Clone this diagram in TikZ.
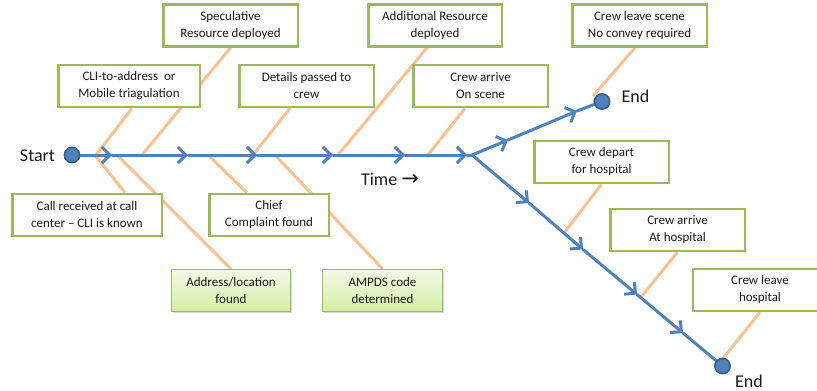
\documentclass[tikz,border=0pt]{standalone}
\usepackage{fontspec}
\setmainfont{Carlito}
\newfontfamily\dejavu{DejaVu Sans}
\usetikzlibrary{arrows.meta,shadows,backgrounds,calc}
\definecolor{flowblue}{HTML}{4F81BD}
\definecolor{flowdark}{HTML}{385D8A}
\definecolor{boneor}{HTML}{FAC090}
\definecolor{boxgreen}{HTML}{9BBB59}
\definecolor{gtop}{HTML}{F2F9E6}
\definecolor{gbot}{HTML}{D5EEA6}
\definecolor{txt}{HTML}{1A1A1A}
\begin{document}
\begin{tikzpicture}[x=1pt,y=-1pt,
  box/.style={draw=boxgreen, line width=2.5pt, fill=white, align=center, text=txt,
    font=\fontsize{13}{17}\selectfont, minimum height=42pt, inner sep=0pt},
  gbox/.style={draw=boxgreen, line width=1.2pt, top color=gtop, bottom color=gbot,
    drop shadow={shadow xshift=1.5pt,shadow yshift=-1.5pt,opacity=0.3},
    align=center, text=txt, font=\fontsize{13}{17}\selectfont, minimum height=42pt, inner sep=0pt},
  flow/.style={draw=flowblue, line width=3pt, line cap=round,
    -{Straight Barb[length=8pt,width=16pt,line width=3pt 0]}},
  flowline/.style={draw=flowblue, line width=3pt, line cap=round},
  bone/.style={draw=boneor, line width=3pt},
  dot/.style={circle, fill=flowblue, draw=flowdark, line width=1.5pt, minimum size=15pt, inner sep=0pt},
  big/.style={font=\fontsize{18}{20}\selectfont, text=txt, inner sep=0pt}]
\useasboundingbox (0,0) rectangle (817,391);
\clip (0,0) rectangle (817,391);

% boxes
\node[box, minimum width=134.5pt] (spec) at (230.5,25.5) {Speculative\\Resource deployed};
\node[box, minimum width=141.5pt] (cli) at (129,86) {CLI-to-address~ or\\Mobile triagulation};
\node[box, minimum width=134.5pt] (details) at (306.5,86) {Details passed to\\crew};
\node[box, minimum width=133.5pt] (addl) at (435,25.5) {Additional Resource\\deployed};
\node[box, minimum width=134.5pt] (scene) at (480.5,86) {Crew arrive\\On scene};
\node[box, minimum width=134.5pt] (leave) at (639.5,25.5) {Crew leave scene\\No convey required};
\node[box, minimum width=134.5pt] (depart) at (601.5,162) {Crew depart\\for hospital};
\node[box, minimum width=134.5pt] (arrhosp) at (677.5,230) {Crew arrive\\At hospital};
\node[box, minimum width=134.5pt] (leavehosp) at (760,290) {Crew leave\\hospital};
\node[box, minimum width=149.5pt] (call) at (87,215) {Call received at call\\center -- CLI is known};
\node[box, minimum width=119.5pt] (chief) at (269,215) {Chief\\Complaint found};
\node[gbox, minimum width=118.5pt] (addr) at (231,290.5) {Address/location\\found};
\node[gbox, minimum width=119.5pt] (ampds) at (382.5,290.5) {AMPDS code\\determined};

% circles and labels
\node[dot] (start) at (72,155) {};
\node[dot] (endA) at (602,101.5) {};
\node[dot] (endB) at (722.5,366) {};
\node[big] (startlbl) at (37.5,155.5) {Start};
\node[big] (endAlbl) at (635.5,96.5) {End};
\node[big] (endBlbl) at (749,381.5) {End};
\node[big] (timelbl) at (390,179) {Time {\dejavu\fontsize{21}{20}\selectfont →}};

% main line coordinates
\coordinate (m1) at (112,155);
\coordinate (m2) at (188,155);
\coordinate (m3) at (257,155);
\coordinate (m4) at (333,155);
\coordinate (m5) at (405,155);
\coordinate (m6) at (467,155);
\coordinate (split) at (472,155);
\coordinate (u1) at (508,140);
\coordinate (u2) at (577,111);
\coordinate (d1) at (529,203);
\coordinate (d2) at (583,249.5);
\coordinate (d3) at (637,294.5);
\coordinate (d4) at (683,333);

% bone feet
\coordinate (fcli) at (96,155);
\coordinate (fspec) at (142,155);
\coordinate (fdet) at (253,155);
\coordinate (faddl) at (338,155);
\coordinate (fscene) at (428,155);
\coordinate (fleave) at (593,96);
\coordinate (fdepart) at (564,233);
\coordinate (farr) at (641,297);
\coordinate (fleaveh) at (721,361);
\coordinate (fcall) at (95,155);
\coordinate (faddr) at (117,155);
\coordinate (fchief) at (208,155);
\coordinate (fampds) at (275,155);

\begin{pgfonlayer}{background}
\draw[bone] ([xshift=3pt]cli.south) -- (fcli);
\draw[bone] (spec.south) -- (fspec);
\draw[bone] ([xshift=-16.5pt]details.south) -- (fdet);
\draw[bone] ([xshift=-8pt]addl.south) -- (faddl);
\draw[bone] ([xshift=-15.5pt]scene.south) -- (fscene);
\draw[bone] ([xshift=-4.5pt]leave.south) -- (fleave);
\draw[bone] (depart.south) -- (fdepart);
\draw[bone] (arrhosp.south) -- (farr);
\draw[bone] (leavehosp.south) -- (fleaveh);
\draw[bone] (fcall) -- ([xshift=38pt]call.north);
\draw[bone] (faddr) -- (addr.north);
\draw[bone] (fchief) -- ([xshift=-22pt]chief.north);
\draw[bone] (fampds) -- (ampds.north);
\end{pgfonlayer}

% flow
\draw[flow] (start) -- (m1);
\draw[flow] (m1) -- (m2);
\draw[flow] (m2) -- (m3);
\draw[flow] (m3) -- (m4);
\draw[flow] (m4) -- (m5);
\draw[flow] (m5) -- (m6);
\draw[flowline] (m6) -- (split);
\draw[flow] (split) -- (u1);
\draw[flow] (u1) -- (u2);
\draw[flowline] (u2) -- (endA);
\draw[flow] (split) -- (d1);
\draw[flow] (d1) -- (d2);
\draw[flow] (d2) -- (d3);
\draw[flow] (d3) -- (d4);
\draw[flowline] (d4) -- (endB);
\node[dot] at (start) {};
\node[dot] at (endA) {};
\node[dot] at (endB) {};
\end{tikzpicture}
\end{document}
